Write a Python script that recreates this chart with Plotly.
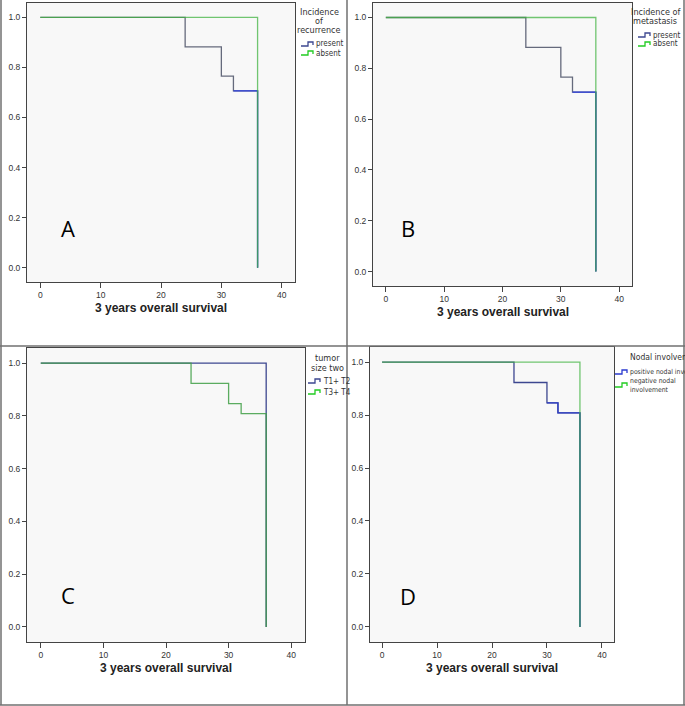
import plotly.graph_objects as go

# ---------------- data ----------------
x_ticks = [0, 10, 20, 30, 40]
y_ticks = [0.0, 0.2, 0.4, 0.6, 0.8, 1.0]

# Panel A: incidence of recurrence
a_present_t = [0, 24, 30, 32, 36]
a_present_s = [1.0, 0.882, 0.765, 0.706, 0.0]
a_absent_t = [0, 36]
a_absent_s = [1.0, 0.0]

# Panel B: incidence of metastasis
b_present_t = [0, 24, 30, 32, 36]
b_present_s = [1.0, 0.882, 0.765, 0.706, 0.0]
b_absent_t = [0, 36]
b_absent_s = [1.0, 0.0]

# Panel C: tumor size two
c_t12_t = [0, 36]
c_t12_s = [1.0, 0.0]
c_t34_t = [0, 24, 30, 32, 36]
c_t34_s = [1.0, 0.923, 0.846, 0.808, 0.0]

# Panel D: nodal involvement
d_pos_t = [0, 24, 30, 32, 36]
d_pos_s = [1.0, 0.923, 0.846, 0.808, 0.0]
d_neg_t = [0, 36]
d_neg_s = [1.0, 0.0]

x_title = "3 years overall survival"

# ---------------- layout helpers ----------------
W, H = 685, 706


def px(x):
    return x / W


def py(y):
    return 1 - y / H


GRAY = "#656a7c"
BLUE = "#2a3ce0"
NAVY = "#3d4790"
GREEN = "#43b443"
DGREEN = "#3f9f45"
FONT = "Liberation Sans, Arial, sans-serif"
NARROW = "DejaVu Sans Condensed, Liberation Sans Narrow, Liberation Sans, Arial, sans-serif"

# frame (left, right, top, bottom) in pixels
frames = {
    1: (27, 295, 3, 282),
    2: (373, 632, 3, 286),
    3: (27, 305, 348, 642),
    4: (370, 614, 347, 642),
}

fig = go.Figure()


def step(t, s, i, color, width=1.3, opacity=1.0):
    sfx = "" if i == 1 else str(i)
    fig.add_trace(go.Scatter(x=t, y=s, mode="lines",
                             line=dict(shape="hv", color=color, width=width),
                             opacity=opacity, hoverinfo="skip",
                             xaxis="x" + sfx, yaxis="y" + sfx))


# Panel A
step(a_present_t, a_present_s, 1, GRAY)
step(a_present_t[-2:], a_present_s[-2:], 1, BLUE)
step(a_absent_t, a_absent_s, 1, GREEN, opacity=0.75)
# Panel B
step(b_present_t, b_present_s, 2, GRAY)
step(b_present_t[-2:], b_present_s[-2:], 2, BLUE)
step(b_absent_t, b_absent_s, 2, GREEN, opacity=0.75)
# Panel C
step(c_t12_t, c_t12_s, 3, NAVY)
step(c_t34_t, c_t34_s, 3, DGREEN, opacity=0.85)
# Panel D
step(d_pos_t, d_pos_s, 4, NAVY)
step(d_pos_t[-3:], d_pos_s[-3:], 4, "#3040c8")
step(d_neg_t, d_neg_s, 4, GREEN, opacity=0.75)

layout = dict(width=W, height=H, margin=dict(l=0, r=0, t=0, b=0),
              paper_bgcolor="white", plot_bgcolor="#f8f8f8",
              showlegend=False, font=dict(family=FONT, color="#333"))

annotations = []
shapes = []

for i, (l, r, t, b) in frames.items():
    sfx = "" if i == 1 else str(i)
    layout["xaxis" + sfx] = dict(
        domain=[px(l), px(r)], range=[-2.2, 42.2], tickvals=x_ticks,
        ticks="outside", ticklen=5, tickcolor="#444", tickwidth=1,
        showline=True, linecolor="#444", linewidth=1, mirror=True,
        showgrid=False, zeroline=False, anchor="y" + sfx,
        tickfont=dict(size=8.5, color="#333", family=FONT), fixedrange=True)
    layout["yaxis" + sfx] = dict(
        domain=[py(b), py(t)], range=[-0.057, 1.057], tickvals=y_ticks,
        tickformat=".1f",
        ticks="outside", ticklen=4, tickcolor="#444", tickwidth=1,
        showline=True, linecolor="#444", linewidth=1, mirror=True,
        showgrid=False, zeroline=False, anchor="x" + sfx,
        tickfont=dict(size=8.5, color="#333", family=FONT), fixedrange=True)
    # x title
    ty = b + 26
    annotations.append(dict(text="<b>" + x_title + "</b>", x=px((l + r) / 2), y=py(ty),
                            xref="paper", yref="paper", showarrow=False,
                            xanchor="center", yanchor="middle",
                            font=dict(size=12, color="#222", family=FONT)))

# panel letters
for letter, (cx, cy) in zip("ABCD", [(68, 228), (408, 228), (68, 595), (408, 596)]):
    annotations.append(dict(text=letter, x=px(cx), y=py(cy), xref="paper", yref="paper",
                            showarrow=False, xanchor="center", yanchor="middle",
                            font=dict(size=22, color="black", family="Open Sans, sans-serif")))


def text(s, x, y, anchor="left", size=8, color="#333"):
    annotations.append(dict(text=s, x=px(x), y=py(y), xref="paper", yref="paper",
                            showarrow=False, xanchor=anchor, yanchor="middle",
                            font=dict(size=size, color=color, family=NARROW)))


def glyph(x0, y, color):
    # small step glyph for legend
    pts = [(x0, y + 2), (x0 + 7, y + 2), (x0 + 7, y - 2), (x0 + 12, y - 2), (x0 + 12, y + 1)]
    path = "M " + " L ".join(f"{px(a):.5f},{py(c):.5f}" for a, c in pts)
    shapes.append(dict(type="path", path=path, xref="paper", yref="paper",
                       line=dict(color=color, width=1.3)))


TS = 9
# Legend A
text("Incidence", 319, 12, "center", TS)
text("of", 319, 21, "center", TS)
text("recurrence", 319, 30, "center", TS)
glyph(301, 44, NAVY); text("present", 314, 44)
glyph(301, 53, "#22cc22"); text("absent", 314, 53)

# Legend B
text("Incidence of", 655, 12, "center", TS)
text("metastasis", 655, 21, "center", TS)
glyph(638, 35, NAVY); text("present", 651, 35)
glyph(638, 44, "#22cc22"); text("absent", 651, 44)

# Legend C
text("tumor", 327, 358, "center", TS)
text("size two", 327, 368, "center", TS)
glyph(308, 381, NAVY); text("T1+ T2", 321, 381)
glyph(308, 392, "#22cc22"); text("T3+ T4", 321, 392)

# Legend D
text("Nodal involvement", 628, 357, "left", size=8.5)
glyph(615, 372, "#2b3bd0"); text("positive nodal involvement", 628, 372, size=6.8)
glyph(615, 385, "#22cc22"); text("negative nodal", 628, 381, size=6.8)
text("involvement", 628, 389.5, size=6.8)

# panel borders
bc = "#707070"
for x0, y0, x1, y1 in [(1, 0, 1, 705), (347, 0, 347, 705), (684, 0, 684, 705),
                       (0, 346, 685, 346), (0, 705, 685, 705)]:
    shapes.append(dict(type="line", x0=px(x0), y0=py(y0), x1=px(x1), y1=py(y1),
                       xref="paper", yref="paper", line=dict(color=bc, width=1.5)))

layout["annotations"] = annotations
layout["shapes"] = shapes
fig.update_layout(**layout)
fig.write_html("out.html", config={"displayModeBar": False, "staticPlot": True},
               post_script="document.body.style.margin='0';document.body.style.overflow='hidden';")
